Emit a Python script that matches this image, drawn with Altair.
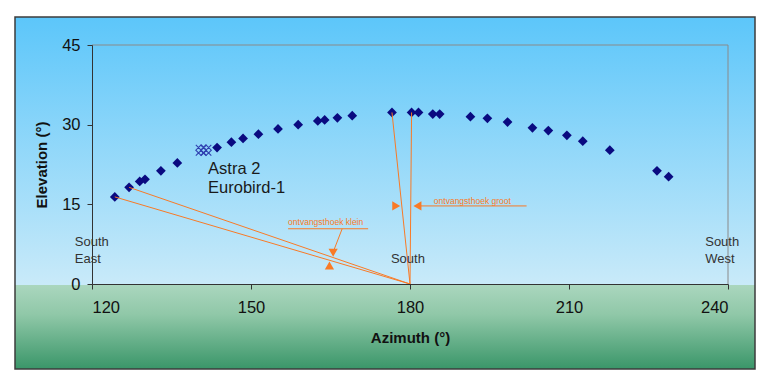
import altair as alt
import pandas as pd

# ---- data ----
azimuth = [124.3, 127.0, 129.0, 130.0, 133.0, 136.1, 143.6, 146.3, 148.5, 151.4,
           155.1, 158.9, 162.6, 163.9, 166.3, 169.1, 176.6, 180.3, 181.6, 184.3,
           185.6, 191.4, 194.6, 198.4, 203.1, 206.1, 209.6, 212.6, 217.7, 226.6, 228.8]
elevation = [16.4, 18.2, 19.3, 19.7, 21.3, 22.8, 25.7, 26.7, 27.4, 28.2,
             29.2, 30.0, 30.7, 30.9, 31.3, 31.7, 32.3, 32.3, 32.3, 32.0,
             32.0, 31.5, 31.2, 30.5, 29.4, 28.9, 28.0, 26.9, 25.2, 21.3, 20.2]

astra_az = [140.6, 141.5]
astra_el = [25.2, 25.2]

# orange construction lines (start az, start el, end az, end el)
seg_az1 = [180.0, 180.0, 180.0, 180.0, 181.0, 157.0, 167.2]
seg_el1 = [0.0, 0.0, 0.0, 0.0, 14.7, 10.4, 10.4]
seg_az2 = [124.3, 127.0, 176.6, 180.3, 202.0, 172.1, 165.65]
seg_el2 = [16.4, 18.2, 32.3, 32.3, 14.7, 10.4, 6.4]

arrow_az = [177.4, 181.4, 165.5, 164.8]
arrow_el = [14.7, 14.7, 5.9, 3.5]
arrow_shape = ["triangle-right", "triangle-left", "triangle-down", "triangle-up"]

orange_text = ["ontvangsthoek groot", "ontvangsthoek klein"]
orange_az = [184.5, 157.0]
orange_el = [15.6, 11.7]

dir_text = ["South", "East", "South", "South", "West"]
dir_az = [116.75, 116.75, 179.6, 235.7, 235.7]
dir_el = [8.0, 4.7, 4.7, 8.0, 4.7]
dir_align = ["left", "left", "center", "left", "left"]

sat_text = ["Astra 2", "Eurobird-1"]
sat_az = [141.9, 141.9]
sat_el = [21.7, 18.1]

x_ticks = [120, 150, 180, 210, 240]
y_ticks = [0, 15, 30, 45]

W, H = 636, 239
ORANGE = "#F97A26"
FONT = "Liberation Sans"

xs = alt.Scale(domain=[120, 240], nice=False, zero=False)
ys = alt.Scale(domain=[0, 45], nice=False)

one = pd.DataFrame({"a": [0]})

sky = alt.Chart(one).mark_rect(
    fill={"gradient": "linear", "x1": 0, "y1": 0, "x2": 0, "y2": 1,
          "stops": [{"offset": 0, "color": "#5CC6FA"},
                    {"offset": 1, "color": "#C9EAF9"}]},
).encode(x=alt.value(-77), x2=alt.value(W + 27), y=alt.value(-28), y2=alt.value(H + 1))

grass = alt.Chart(one).mark_rect(
    fill={"gradient": "linear", "x1": 0, "y1": 0, "x2": 0, "y2": 1,
          "stops": [{"offset": 0, "color": "#AAD6BE"},
                    {"offset": 0.35, "color": "#90C8A8"},
                    {"offset": 1, "color": "#3A9669"}]},
).encode(x=alt.value(-77), x2=alt.value(W + 27), y=alt.value(H + 1), y2=alt.value(H + 85))

frame = alt.Chart(one).mark_rect(
    fillOpacity=0, stroke="#3c3c3c", strokeWidth=1.5,
).encode(x=alt.value(-77), x2=alt.value(W + 27), y=alt.value(-28), y2=alt.value(H + 85))

box_df = pd.DataFrame({"x1": [120, 240], "y1": [45, 0], "x2": [240, 240], "y2": [45, 45]})
box = alt.Chart(box_df).mark_rule(color="#8a8a8a", strokeWidth=1).encode(
    x=alt.X("x1:Q", scale=xs, axis=alt.Axis(title="Azimuth (°)", values=x_ticks,
                                            format="d", zindex=1)),
    y=alt.Y("y1:Q", scale=ys, axis=alt.Axis(title="Elevation (°)", values=y_ticks,
                                            format="d", zindex=1)),
    x2="x2:Q", y2="y2:Q")

seg_df = pd.DataFrame({"x1": seg_az1, "y1": seg_el1, "x2": seg_az2, "y2": seg_el2})
segs = alt.Chart(seg_df).mark_rule(color=ORANGE, strokeWidth=1).encode(
    x=alt.X("x1:Q", scale=xs), y=alt.Y("y1:Q", scale=ys), x2="x2:Q", y2="y2:Q")

arr_df = pd.DataFrame({"x": arrow_az, "y": arrow_el, "s": arrow_shape})
arrows = alt.Chart(arr_df).mark_point(filled=True, color=ORANGE, size=85, opacity=1).encode(
    x=alt.X("x:Q", scale=xs), y=alt.Y("y:Q", scale=ys),
    shape=alt.Shape("s:N", scale=None, legend=None))

ot_df = pd.DataFrame({"x": orange_az, "y": orange_el, "t": orange_text})
otext = alt.Chart(ot_df).mark_text(align="left", baseline="middle", color=ORANGE,
                                   font=FONT, fontSize=8.5).encode(
    x=alt.X("x:Q", scale=xs), y=alt.Y("y:Q", scale=ys), text="t:N")

pts_df = pd.DataFrame({"az": azimuth, "el": elevation})
pts = alt.Chart(pts_df).mark_point(shape="diamond", filled=True, color="#0A0A80",
                                   size=95, opacity=1).encode(
    x=alt.X("az:Q", scale=xs), y=alt.Y("el:Q", scale=ys))

astra_df = pd.DataFrame({"az": astra_az, "el": astra_el})
astra = alt.Chart(astra_df).mark_point(
    shape="M-1,-1L1,1M-1,1L1,-1M0,-1L1,0L0,1L-1,0Z", filled=False,
    color="#2F40B0", strokeWidth=1.1, size=115, opacity=1).encode(
    x=alt.X("az:Q", scale=xs), y=alt.Y("el:Q", scale=ys))

sat_df = pd.DataFrame({"x": sat_az, "y": sat_el, "t": sat_text})
sat = alt.Chart(sat_df).mark_text(align="left", baseline="middle", color="#1a1a1a",
                                  font=FONT, fontSize=16.5).encode(
    x=alt.X("x:Q", scale=xs), y=alt.Y("y:Q", scale=ys), text="t:N")

dir_df = pd.DataFrame({"x": dir_az, "y": dir_el, "t": dir_text, "a": dir_align})
dir_left = alt.Chart(dir_df[dir_df.a == "left"]).mark_text(
    align="left", baseline="middle", color="#333333", font=FONT, fontSize=13).encode(
    x=alt.X("x:Q", scale=xs), y=alt.Y("y:Q", scale=ys), text="t:N")
dir_center = alt.Chart(dir_df[dir_df.a == "center"]).mark_text(
    align="center", baseline="middle", color="#333333", font=FONT, fontSize=13).encode(
    x=alt.X("x:Q", scale=xs), y=alt.Y("y:Q", scale=ys), text="t:N")

chart = alt.layer(
    sky, grass, frame, box, pts, segs, arrows, otext, astra, sat, dir_left, dir_center
).properties(
    width=W, height=H,
    padding={"left": 84, "top": 37, "right": 30, "bottom": 88},
    autosize=alt.AutoSizeParams(type="none"),
    background="white",
).configure_view(stroke=None).configure_axis(
    grid=False, domainColor="#333333", tickColor="#333333",
    tickSize=5, labelFont=FONT, labelFontSize=16.5, labelColor="#111111",
    titleFont=FONT, titleFontSize=15, titleFontWeight="bold", titleColor="#111111",
).configure_axisX(labelPadding=10, titlePadding=15).configure_axisY(
    labelPadding=7, titlePadding=12)

chart.save("out.html", embed_options={"renderer": "svg", "actions": False})
